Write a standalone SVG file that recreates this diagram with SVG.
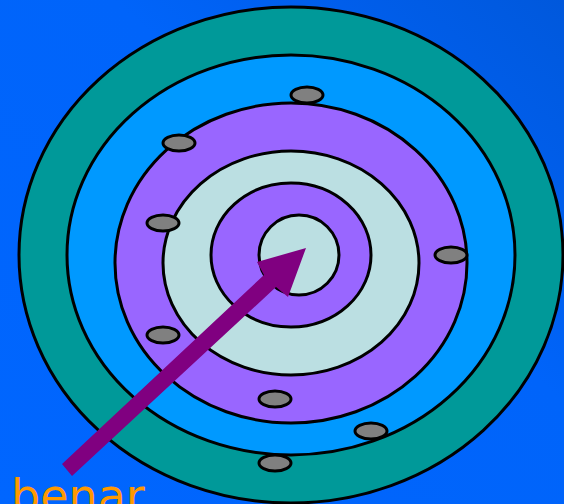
<svg xmlns="http://www.w3.org/2000/svg" width="564" height="504" viewBox="0 0 564 504">
<defs>
<linearGradient id="bg" x1="0" y1="1" x2="1" y2="0">
<stop offset="0" stop-color="#0066FF"/>
<stop offset="0.6" stop-color="#0064FA"/>
<stop offset="1" stop-color="#0058DC"/>
</linearGradient>
<style>
.ring{stroke:#000;stroke-width:3}
.dot{fill:#808080;stroke:#000;stroke-width:3}
</style>
</defs>
<rect width="564" height="504" fill="url(#bg)"/>
<g id="target">
<ellipse class="ring" cx="291" cy="255" rx="272" ry="248" fill="#009999"/>
<ellipse class="ring" cx="291" cy="255" rx="224" ry="200" fill="#0099FF"/>
<ellipse class="ring" cx="291" cy="263" rx="176" ry="160" fill="#9966FF"/>
<ellipse class="ring" cx="291" cy="263" rx="128" ry="112" fill="#BBDFE2"/>
<ellipse class="ring" cx="291" cy="255" rx="80" ry="72" fill="#9966FF"/>
<ellipse class="ring" cx="299" cy="255" rx="40" ry="40" fill="#BBDFE2"/>
</g>
<g id="dots">
<ellipse class="dot" cx="307" cy="95" rx="16" ry="8"/>
<ellipse class="dot" cx="179" cy="143" rx="16" ry="8"/>
<ellipse class="dot" cx="163" cy="223" rx="16" ry="8"/>
<ellipse class="dot" cx="451" cy="255" rx="16" ry="8"/>
<ellipse class="dot" cx="163" cy="335" rx="16" ry="8"/>
<ellipse class="dot" cx="275" cy="399" rx="16" ry="8"/>
<ellipse class="dot" cx="371" cy="431" rx="16" ry="8"/>
<ellipse class="dot" cx="275" cy="463" rx="16" ry="8"/>
</g>
<g id="connectors">
<polygon points="62,464 264,275 257,262 306,248 288,297 276,287 72,476" fill="#800080"/>
</g>
<g id="label">
<text x="11" y="512" font-family="DejaVu Sans, sans-serif" font-size="46" fill="#FF9900">benar</text>
</g>
</svg>
